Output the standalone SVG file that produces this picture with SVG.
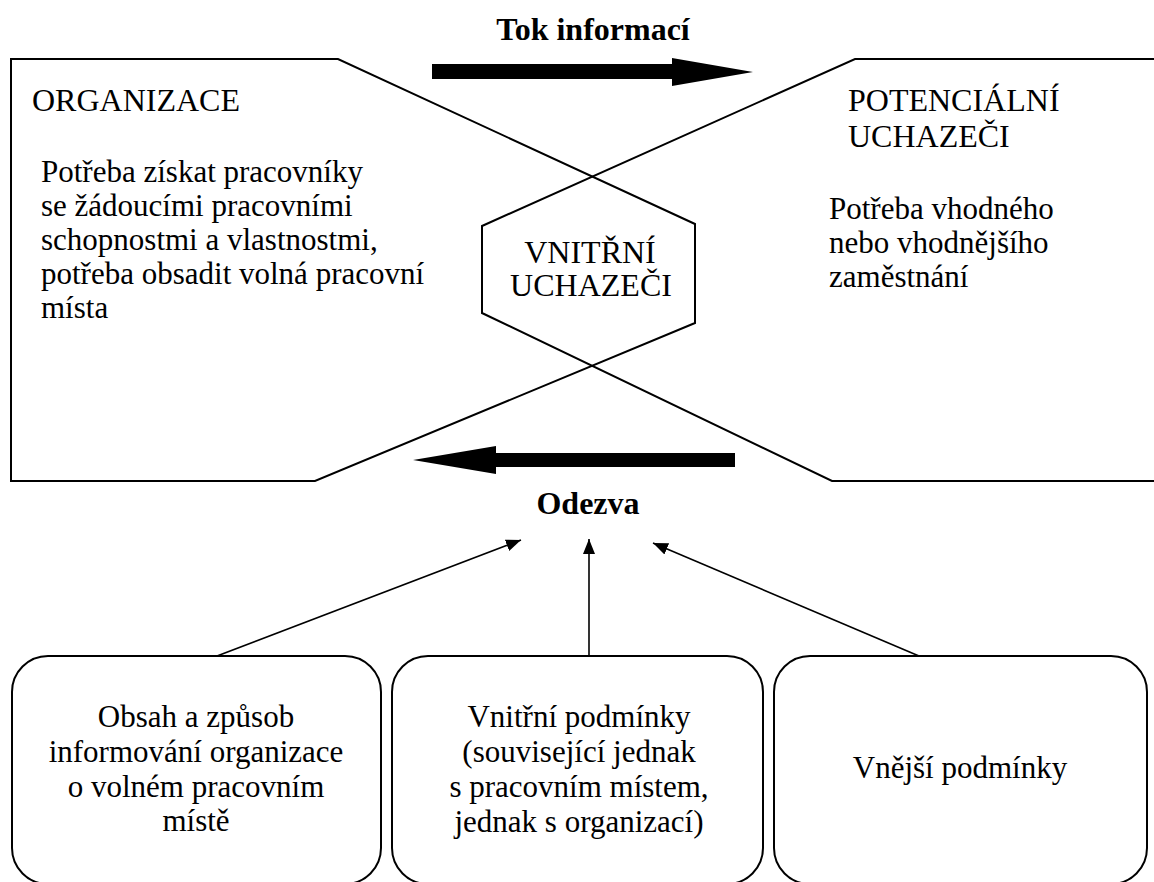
<svg xmlns="http://www.w3.org/2000/svg" width="1154" height="882" viewBox="0 0 1154 882">
<style>
text{font-family:"Liberation Serif","Times New Roman",serif;fill:#000}
.h{font-size:32px}
.b{font-size:31px}
.bold{font-size:32px;font-weight:bold}
.shape{fill:none;stroke:#000;stroke-width:2}
.box{fill:none;stroke:#000;stroke-width:2}
.conn{stroke:#000;stroke-width:1.6;fill:none}
.big{fill:#000}
</style>
<defs>
<marker id="ah" viewBox="0 0 10 10" refX="10" refY="5" markerWidth="15" markerHeight="15" markerUnits="userSpaceOnUse" orient="auto">
<path d="M0,1 L10,5 L0,9 z" fill="#000"/>
</marker>
</defs>
<rect width="1154" height="882" fill="#fff"/>

<g id="organizace">
<polygon class="shape" points="11,59 338,59 695,224 695,323 315,481 11,481"/>
<text class="h" x="32" y="111">ORGANIZACE</text>
<text class="b" x="41" y="182">Potřeba získat pracovníky</text>
<text class="b" x="41" y="216">se žádoucími pracovními</text>
<text class="b" x="41" y="250">schopnostmi a vlastnostmi,</text>
<text class="b" x="41" y="284">potřeba obsadit volná pracovní</text>
<text class="b" x="41" y="318">místa</text>
</g>

<g id="potencialni">
<polyline class="shape" points="1160,59 855,59 482,226 482,313 832,481 1160,481"/>
<text class="h" x="848" y="111">POTENCIÁLNÍ</text>
<text class="h" x="848" y="147">UCHAZEČI</text>
<text class="b" x="829" y="219">Potřeba vhodného</text>
<text class="b" x="829" y="253">nebo vhodnějšího</text>
<text class="b" x="829" y="287">zaměstnání</text>
</g>

<g id="vnitrni">
<text class="h" x="590" y="263" text-anchor="middle">VNITŘNÍ</text>
<text class="h" x="591" y="296" text-anchor="middle">UCHAZEČI</text>
</g>

<g id="tok">
<polygon class="big" points="432,64 672,64 672,58 753,72 672,86 672,79 432,79"/>
<text class="bold" x="593" y="40" text-anchor="middle">Tok informací</text>
</g>

<g id="odezva">
<polygon class="big" points="735,453 496,453 496,446 413,460 496,474 496,467 735,467"/>
<text class="bold" x="588" y="514" text-anchor="middle">Odezva</text>
</g>

<g id="box1">
<rect class="box" x="12" y="656" width="369" height="228" rx="36" ry="36"/>
<text class="b" x="196" y="727" text-anchor="middle">Obsah a způsob</text>
<text class="b" x="196" y="762" text-anchor="middle">informování organizace</text>
<text class="b" x="196" y="797" text-anchor="middle">o volném pracovním</text>
<text class="b" x="196" y="831" text-anchor="middle">místě</text>
</g>

<g id="box2">
<rect class="box" x="392" y="656" width="371" height="228" rx="36" ry="36"/>
<text class="b" x="579" y="727" text-anchor="middle">Vnitřní podmínky</text>
<text class="b" x="579" y="762" text-anchor="middle">(související jednak</text>
<text class="b" x="579" y="797" text-anchor="middle">s pracovním místem,</text>
<text class="b" x="579" y="832" text-anchor="middle">jednak s organizací)</text>
</g>

<g id="box3">
<rect class="box" x="774" y="656" width="373" height="228" rx="36" ry="36"/>
<text class="b" x="960" y="778" text-anchor="middle">Vnější podmínky</text>
</g>

<g id="connectors">
<line class="conn" x1="217" y1="656" x2="521" y2="540" marker-end="url(#ah)"/>
<line class="conn" x1="589" y1="656" x2="589" y2="539" marker-end="url(#ah)"/>
<line class="conn" x1="919" y1="656" x2="653" y2="543" marker-end="url(#ah)"/>
</g>
</svg>
